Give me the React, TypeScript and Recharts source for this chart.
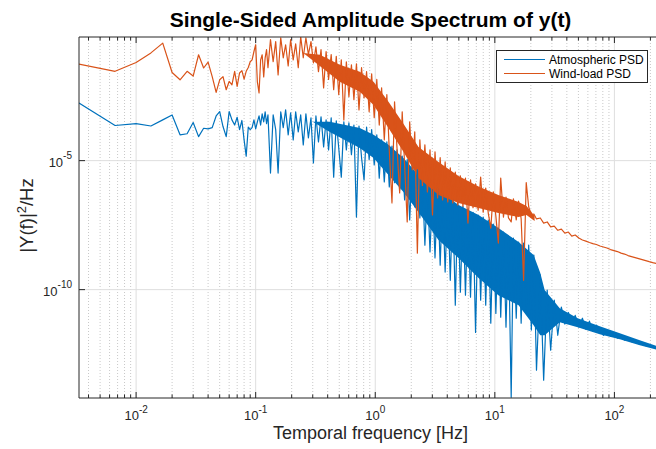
import React from "react";
import { ComposedChart, Line, Area, XAxis, YAxis, CartesianGrid, Legend, Label } from "recharts";

// Frequency axis [Hz]: 1/300 Hz bins at the low end, then a thinned set through
// the noisy band and the roll-off tail (log axis).
const freq = [
  0.00333, 0.00667, 0.01, 0.0133, 0.0167, 0.02, 0.0233, 0.0267, 0.03, 0.0333,
  0.0367, 0.04, 0.0433, 0.0467, 0.05, 0.0533, 0.0567, 0.06, 0.0633, 0.0667,
  0.07, 0.0733, 0.0767, 0.08, 0.0833, 0.0867, 0.09, 0.0933, 0.0967, 0.1,
  0.1033, 0.1067, 0.11, 0.1133, 0.1167, 0.12, 0.1233, 0.1267,
  0.133, 0.14, 0.147, 0.154, 0.162, 0.17, 0.178, 0.187, 0.196, 0.206,
  0.216, 0.227, 0.238, 0.25, 0.263, 0.276, 0.29, 0.304, 0.319, 0.335,
  0.352, 0.37, 0.388, 0.407, 0.428, 0.449, 0.472, 0.495, 0.52, 0.546,
  0.573, 0.602, 0.632, 0.663, 0.696, 0.731, 0.768, 0.806, 0.846, 0.889,
  0.933, 0.98, 1.03, 1.08, 1.13, 1.19, 1.25, 1.31, 1.38, 1.45,
  1.52, 1.6, 1.68, 1.76, 1.85, 1.94, 2.04, 2.14, 2.25, 2.36,
  2.48, 2.6, 2.73, 2.87, 3.01, 3.16, 3.32, 3.49, 3.66, 3.84,
  4.04, 4.24, 4.45, 4.67, 4.9, 5.15, 5.41, 5.68, 5.96, 6.26,
  6.57, 6.9, 7.25, 7.61, 7.99, 8.39, 8.81, 9.25, 9.71, 10.2,
  10.7, 11.2, 11.8, 12.4, 13.0, 13.7, 14.3, 15.1, 15.8, 16.6,
  17.4, 18.3, 19.2, 20.2, 21.2, 22.3,
  24, 25.6, 27.4, 29.3, 31.4, 33.6, 36, 38.5, 41.2, 44,
  47, 50.4, 54, 57.7, 61.8, 66, 70.7, 75.7, 81, 86.6,
  92.7, 99.2, 106, 113.6, 121.5, 130, 139, 149, 159.5, 170.7,
  182.6, 195.4, 209, 223.7, 239, 250,
];

// |Y(f)|^2/Hz, one value per frequency above
const atmospheric = [
  1.7e-3, 2.3e-4, 2.7e-4, 2.2e-4, 3.8e-4, 5.9e-4, 1.0e-4, 1.1e-4, 3.0e-4, 8.5e-5,
  1.8e-4, 1.7e-4, 1.9e-4, 5.4e-4, 8.0e-4, 2.1e-4, 8.5e-5, 8.0e-4, 3.8e-4, 2.4e-4,
  4.8e-4, 1.6e-4, 3.6e-4, 6.4e-5, 1.5e-5, 2.0e-4, 1.6e-4, 1.9e-4, 3.8e-4, 1.7e-4,
  3.2e-4, 5.4e-4, 2.4e-4, 6.5e-4, 3.2e-4, 7.8e-4, 2.7e-4, 5.9e-4,
  3.3e-6, 5.9e-4, 1.6e-4, 3.3e-6, 7.8e-4, 1.9e-4, 9.3e-4, 1.0e-4, 7.1e-4, 6.4e-5,
  7.8e-4, 1.3e-4, 5.9e-4, 4.1e-5, 6.5e-4, 7.6e-5, 4.6e-4, 8.1e-6, 5.4e-4, 5.3e-5,
  5.0e-4, 3.4e-5, 3.8e-4, 2.6e-5, 4.6e-4, 2.3e-6, 3.5e-4, 3.1e-5, 2.3e-6, 3.2e-4,
  2.6e-5, 2.9e-4, 1.7e-5, 2.4e-4, 6.5e-8, 2.2e-4, 1.3e-5, 1.8e-6, 2.0e-4, 1.1e-5,
  1.6e-4, 6.8e-6, 1.0e-4, 2.1e-6, 6.4e-5, 1.5e-6, 5.3e-5, 9.5e-7, 3.7e-5, 1.4e-6,
  2.6e-5, 7.3e-7, 1.5e-5, 3.0e-7, 1.1e-5, 5.0e-8, 6.8e-6, 1.6e-7, 4.4e-6, 6.0e-8,
  1.8e-6, 5.3e-9, 9.5e-7, 2.9e-9, 7.3e-7, 1.7e-9, 8.7e-7, 8.9e-10, 4.7e-7, 4.8e-10,
  3.6e-7, 2.3e-10, 3.0e-7, 2.5e-11, 2.3e-7, 8.0e-11, 1.7e-7, 6.1e-11, 1.3e-7, 5.1e-11,
  1.0e-7, 2.2e-12, 7.8e-8, 3.9e-11, 6.5e-8, 2.5e-11, 5.0e-8, 5.0e-12, 3.5e-8, 1.2e-11,
  2.4e-8, 8.6e-12, 1.7e-8, 3.5e-12, 1.2e-8, 6.7e-15, 1.0e-8, 7.8e-12, 7.0e-9, 5.0e-12,
  6.4e-9, 1.6e-11, 5.3e-9, 2.7e-12, 2.2e-9, 7.5e-14,
  3.7e-10, 3.1e-14, 9.6e-11, 4.5e-13, 3.9e-11, 1.7e-12, 2.1e-11, 4.6e-12, 1.3e-11, 4.6e-12,
  1.0e-11, 3.5e-12, 7.8e-12, 2.9e-12, 6.0e-12, 2.45e-12, 4.2e-12, 2.45e-12, 1.7e-12, 2.2e-12,
  1.57e-12, 1.87e-12, 1.31e-12, 1.5e-12, 1.1e-12, 1.2e-12, 9.6e-13, 1.0e-12, 8.0e-13, 8.4e-13,
  6.7e-13, 6.7e-13, 5.9e-13, 5.6e-13, 4.9e-13, 4.7e-13,
];

const windLoad = [
  0.055, 0.029, 0.064, 0.15, 0.36, 0.026, 0.0136, 0.029, 0.019, 0.127,
  0.039, 0.066, 0.018, 0.0044, 0.0136, 0.018, 0.0056, 0.0117, 0.0087, 0.029,
  0.0075, 0.025, 0.031, 0.0145, 0.029, 0.041, 0.068, 0.081, 0.17, 0.31,
  0.0113, 0.0042, 0.081, 0.127, 0.0177, 0.097, 0.2, 0.04,
  0.49, 0.068, 0.41, 0.021, 0.58, 0.097, 0.31, 0.047, 0.49, 0.081,
  0.34, 0.04, 0.63, 0.097, 0.58, 0.13, 0.41, 0.062, 0.26, 0.028,
  0.2, 6.6e-3, 0.17, 0.014, 0.13, 5.6e-3, 0.11, 3.6e-3, 0.081, 3.8e-4,
  0.068, 3.0e-3, 0.052, 2.3e-3, 0.057, 9.3e-4, 0.04, 2.7e-3, 0.028, 7.8e-4,
  0.023, 4.6e-4, 0.014, 2.4e-4, 6.6e-3, 6.4e-5, 3.6e-3, 2.6e-5, 2.3e-7, 1.9e-3,
  3.1e-5, 5.6e-7, 7.8e-4, 6.8e-6, 4.2e-8, 3.2e-4, 4.4e-6, 1.3e-4, 2.6e-9, 6.4e-5,
  1.1e-6, 4.1e-5, 6.1e-7, 2.6e-5, 7.8e-8, 2.2e-5, 3.6e-7, 1.3e-5, 3.0e-7, 8.9e-6,
  2.5e-7, 5.2e-6, 2.3e-7, 3.6e-6, 1.9e-7, 2.6e-6, 1.7e-7, 2.1e-6, 3.8e-8, 1.8e-6,
  1.5e-7, 1.25e-6, 1.2e-7, 2.3e-6, 1.0e-7, 8.7e-7, 9.3e-8, 2.4e-8, 6.1e-7, 7.1e-8,
  6.4e-9, 2.1e-6, 6.5e-8, 3.9e-7, 6.0e-8, 4.2e-8, 3.3e-7, 5.0e-8, 2.7e-7, 5.5e-8,
  2.3e-10, 1.4e-6, 1.6e-7, 7.8e-8, 8.5e-8, 5.5e-8,
  6.0e-8, 3.8e-8, 4.2e-8, 2.7e-8, 2.9e-8, 2.0e-8, 2.2e-8, 1.56e-8, 1.71e-8, 1.19e-8,
  1.31e-8, 1.0e-8, 8.4e-9, 7.6e-9, 6.7e-9, 6.1e-9, 5.6e-9, 4.9e-9, 4.5e-9, 4.1e-9,
  3.57e-9, 3.27e-9, 2.99e-9, 2.6e-9, 2.39e-9, 2.09e-9, 1.91e-9, 1.75e-9, 1.6e-9, 1.46e-9,
  1.34e-9, 1.22e-9, 1.12e-9, 1.04e-9, 9.8e-10, 9.4e-10,
];

// Solid core of each noisy trace (where the samples are too dense to separate)
const windCoreFreq = [0.25, 0.344, 0.505, 0.742, 0.968, 1.29, 1.72, 2.3, 3.38, 4.97, 7.31, 10.7, 15.8, 18.4, 21.5];
const windCoreHi = [0.15, 0.127, 0.052, 0.028, 0.0113, 1.9e-3, 2.7e-4, 3.4e-5, 8.9e-6, 2.55e-6, 1.0e-6, 4.7e-7, 2.5e-7, 1.74e-7, 7.1e-8];
const windCoreLo = [0.15, 0.047, 0.0113, 4.65e-3, 1.45e-3, 1.86e-4, 2.2e-5, 2.1e-6, 4.7e-7, 2.3e-7, 1.46e-7, 9.3e-8, 6.5e-8, 7.8e-8, 4.6e-8];

const atmCoreFreq = [0.3, 0.417, 0.742, 0.968, 1.29, 1.72, 2.3, 3.38, 4.97, 7.31, 10.7, 15.8, 21.1, 24, 26.1, 34.9, 49.3, 75.4, 111, 163, 250];
const atmCoreHi = [3.2e-4, 3.2e-4, 1.86e-4, 1.0e-4, 4.1e-5, 1.27e-5, 2.8e-6, 7.3e-7, 1.9e-7, 7.8e-8, 2.44e-8, 7.0e-9, 2.2e-9, 4.4e-10, 9.6e-11, 1.9e-11, 7.8e-12, 3.8e-12, 2.05e-12, 1.1e-12, 5.6e-13];
const atmCoreLo = [3.2e-4, 1.3e-4, 3.1e-5, 1.27e-5, 2.8e-6, 6.1e-7, 1.0e-7, 8.4e-9, 1.67e-9, 2.8e-10, 6.1e-11, 2.5e-11, 4.2e-12, 1.7e-12, 1.7e-12, 5.5e-12, 3.5e-12, 1.87e-12, 1.2e-12, 7.0e-13, 4.1e-13];

const xMajor = [0.01, 0.1, 1, 10, 100];
const xMinor = [
  0.004, 0.005, 0.006, 0.007, 0.008, 0.009,
  0.02, 0.03, 0.04, 0.05, 0.06, 0.07, 0.08, 0.09,
  0.2, 0.3, 0.4, 0.5, 0.6, 0.7, 0.8, 0.9,
  2, 3, 4, 5, 6, 7, 8, 9,
  20, 30, 40, 50, 60, 70, 80, 90,
  200,
];
const yTicks = [1e-10, 1e-5];

const xDomain = [0.00333, 250];
const yDomain = [6.3e-15, 0.62];

const BLUE = "#0072BD";
const ORANGE = "#D95319";
const AXIS = "#262626";
const FONT = "'Liberation Sans', Arial, Helvetica, sans-serif";

const series = [
  { key: "atm", name: "Atmospheric PSD", color: BLUE },
  { key: "wind", name: "Wind-load PSD", color: ORANGE },
];

const data = freq.map((f, i) => ({ f, atm: atmospheric[i], wind: windLoad[i] }));
const windCore = windCoreFreq.map((f, i) => ({ f, band: [windCoreLo[i], windCoreHi[i]] }));
const atmCore = atmCoreFreq.map((f, i) => ({ f, band: [atmCoreLo[i], atmCoreHi[i]] }));
const xTicks = [...xMajor, ...xMinor].sort((a, b) => a - b);

const expOf = (v: number) => Math.round(Math.log10(v));

// eslint-disable-next-line @typescript-eslint/no-explicit-any
const BottomTick = (props: any) => {
  const { x, y, payload } = props;
  const major = xMajor.includes(payload.value);
  return (
    <g>
      <line x1={x} x2={x} y1={y} y2={y - (major ? 6 : 3.5)} stroke={AXIS} strokeWidth={1} />
      {major && (
        <text x={x} y={y + 22} textAnchor="middle" fontSize={13} fill={AXIS} fontFamily={FONT}>
          <tspan>10</tspan>
          <tspan dy={-7} fontSize={10}>{expOf(payload.value)}</tspan>
        </text>
      )}
    </g>
  );
};

// eslint-disable-next-line @typescript-eslint/no-explicit-any
const TopTick = (props: any) => {
  const { x, y, payload } = props;
  const major = xMajor.includes(payload.value);
  return <line x1={x} x2={x} y1={y} y2={y + (major ? 6 : 3.5)} stroke={AXIS} strokeWidth={1} />;
};

// eslint-disable-next-line @typescript-eslint/no-explicit-any
const LeftTick = (props: any) => {
  const { x, y, payload } = props;
  return (
    <g>
      <line x1={x} x2={x + 6} y1={y} y2={y} stroke={AXIS} strokeWidth={1} />
      <text x={x - 7} y={y + 6.3} textAnchor="end" fontSize={13} fill={AXIS} fontFamily={FONT}>
        <tspan>10</tspan>
        <tspan dy={-7.5} fontSize={10}>{expOf(payload.value)}</tspan>
      </text>
    </g>
  );
};

const LegendBox = () => (
  <div style={{ border: `1px solid ${AXIS}`, background: "#fff", padding: "1.5px 0 1.8px", fontFamily: FONT, fontSize: 12, color: "#000" }}>
    {series.map((s) => (
      <div key={s.key} style={{ display: "flex", alignItems: "center", height: 14, lineHeight: "14px" }}>
        <span style={{ display: "inline-block", width: 41, height: 0, borderTop: `1.3px solid ${s.color}`, margin: "0 4px 0 7px" }} />
        <span>{s.name}</span>
      </div>
    ))}
  </div>
);

export default function App() {
  return (
    <div style={{ position: "absolute", left: 0, top: 0, width: 656, height: 449, overflow: "hidden", background: "#fff" }}>
      <div
        style={{
          position: "absolute", left: 79, top: 8.9, width: 583, textAlign: "center", zIndex: 1,
          fontFamily: FONT, fontSize: 21, fontWeight: 700, lineHeight: 1, color: "#000", whiteSpace: "nowrap",
        }}
      >
        Single-Sided Amplitude Spectrum of y(t)
      </div>
      <ComposedChart width={700} height={449} data={data} margin={{ top: 36, right: 38, left: 0, bottom: 0 }}>
        <CartesianGrid vertical horizontal={false} verticalValues={xMinor} stroke="#c9c9c9" strokeDasharray="1 2" />
        <CartesianGrid verticalValues={xMajor} horizontalValues={yTicks} stroke="#dedede" />
        <XAxis
          dataKey="f" type="number" scale="log" domain={xDomain} allowDataOverflow
          ticks={xTicks} interval={0} tick={BottomTick} tickLine={false} tickSize={0} tickMargin={0}
          height={51} axisLine={{ stroke: AXIS }}
        >
          <Label
            // eslint-disable-next-line @typescript-eslint/no-explicit-any
            content={(p: any) => (
              <text x={p.viewBox.x + p.viewBox.width / 2} y={p.viewBox.y + 41} textAnchor="middle" fontSize={18} fill={AXIS} fontFamily={FONT}>
                Temporal frequency [Hz]
              </text>
            )}
          />
        </XAxis>
        <XAxis
          xAxisId="top" orientation="top" dataKey="f" type="number" scale="log" domain={xDomain} allowDataOverflow
          ticks={xTicks} interval={0} tick={TopTick} tickLine={false} tickSize={0} tickMargin={0}
          height={1} axisLine={{ stroke: AXIS }}
        />
        <YAxis
          type="number" scale="log" domain={yDomain} allowDataOverflow
          ticks={yTicks} interval={0} tick={LeftTick} tickLine={false} tickSize={0} tickMargin={0}
          width={79} axisLine={{ stroke: AXIS }}
        >
          <Label
            // eslint-disable-next-line @typescript-eslint/no-explicit-any
            content={(p: any) => {
              const cx = 33;
              const cy = p.viewBox.y + p.viewBox.height / 2 - 2;
              return (
                <text x={cx} y={cy} transform={`rotate(-90, ${cx}, ${cy})`} textAnchor="middle" fontSize={18.5} fill={AXIS} fontFamily={FONT}>
                  <tspan>|Y(f)|</tspan>
                  <tspan dy={-7} fontSize={13}>2</tspan>
                  <tspan dy={7}>/Hz</tspan>
                </text>
              );
            }}
          />
        </YAxis>
        <Area
          data={atmCore} xAxisId="top" dataKey="band" type="linear" stroke="none" fill={BLUE} fillOpacity={1}
          legendType="none" dot={false} activeDot={false} isAnimationActive={false}
        />
        <Line
          dataKey="atm" name="Atmospheric PSD" stroke={BLUE} strokeWidth={1.2}
          strokeLinejoin="round" dot={false} activeDot={false} isAnimationActive={false}
        />
        <Area
          data={windCore} dataKey="band" type="linear" stroke="none" fill={ORANGE} fillOpacity={1}
          legendType="none" dot={false} activeDot={false} isAnimationActive={false}
        />
        <Line
          dataKey="wind" name="Wind-load PSD" stroke={ORANGE} strokeWidth={1.2}
          strokeLinejoin="round" dot={false} activeDot={false} isAnimationActive={false}
        />
        <Legend
          layout="vertical" align="center" verticalAlign="middle"
          content={LegendBox}
          wrapperStyle={{ left: 496, top: 50, width: 152, height: "auto" }}
        />
      </ComposedChart>
    </div>
  );
}
